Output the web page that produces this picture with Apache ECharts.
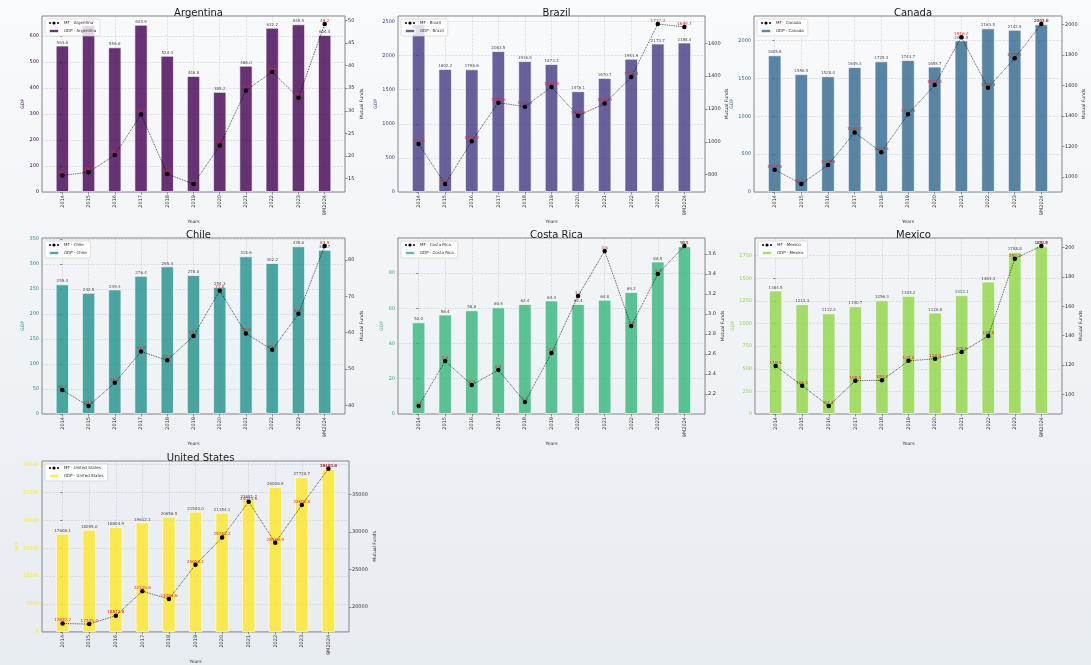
<!DOCTYPE html>
<html>
<head>
<meta charset="utf-8">
<title>GDP and Mutual Funds by Country</title>
<script src="https://cdn.jsdelivr.net/npm/echarts@6/dist/echarts.min.js"></script>
<style>
  html, body { margin: 0; padding: 0; }
  #chart { width: 1091px; height: 665px; }
</style>
</head>
<body>
<div id="chart"></div>
<script>
// Years shown on every panel
const categories = ['2014', '2015', '2016', '2017', '2018', '2019', '2020', '2021', '2022', '2023', '9M2024'];

// GDP (bars, left axis) and Mutual Funds (dotted line, right axis) per country
const gdpArgentina = [563.6, 642.5, 556.8, 643.9, 524.4, 446.8, 385.2, 486.0, 632.2, 645.5, 604.4];
const mfArgentina  = [15.7, 16.4, 20.2, 29.2, 16.0, 13.8, 22.3, 34.5, 38.6, 32.9, 49.2];
const gdpTicksArgentina = [0, 100, 200, 300, 400, 500, 600];
const mfTicksArgentina  = [15, 20, 25, 30, 35, 40, 45, 50];

const gdpBrazil = [2456.0, 1802.2, 1796.6, 2063.5, 1916.9, 1873.3, 1476.1, 1670.7, 1951.9, 2173.7, 2188.4];
const mfBrazil  = [987.6, 743.4, 1004.2, 1238.5, 1214.3, 1333.8, 1159.1, 1232.9, 1394.1, 1717.3, 1699.7];
const gdpTicksBrazil = [0, 500, 1000, 1500, 2000, 2500];
const mfTicksBrazil  = [800, 1000, 1200, 1400, 1600];

const gdpCanada = [1805.8, 1556.5, 1528.0, 1649.3, 1725.3, 1743.7, 1655.7, 2001.5, 2161.5, 2142.5, 2215.0];
const mfCanada  = [1047.8, 954.2, 1078.6, 1292.3, 1162.5, 1411.6, 1602.4, 1916.2, 1585.3, 1778.1, 2002.9];
const gdpTicksCanada = [0, 500, 1000, 1500, 2000];
const mfTicksCanada  = [1000, 1200, 1400, 1600, 1800, 2000];

const gdpChile = [259.4, 242.5, 249.3, 276.4, 295.4, 278.0, 254.3, 315.6, 302.2, 335.6, 328.7];
const mfChile  = [44.2, 39.8, 46.2, 54.8, 52.4, 59.1, 71.6, 59.8, 55.3, 65.2, 83.9];
const gdpTicksChile = [0, 50, 100, 150, 200, 250, 300, 350];
const mfTicksChile  = [40, 50, 60, 70, 80];

const gdpCostaRica = [52.0, 56.4, 58.8, 60.5, 62.4, 64.4, 62.4, 64.8, 69.2, 86.5, 95.1];
const mfCostaRica  = [2.08, 2.53, 2.29, 2.44, 2.12, 2.61, 3.18, 3.63, 2.88, 3.40, 3.68];
const gdpTicksCostaRica = [0, 20, 40, 60, 80];
const mfTicksCostaRica  = [2.2, 2.4, 2.6, 2.8, 3.0, 3.2, 3.4, 3.6];

const gdpMexico = [1364.5, 1213.3, 1112.2, 1190.7, 1256.3, 1305.2, 1120.8, 1313.1, 1463.3, 1788.8, 1853.0];
const mfMexico  = [119.5, 106.1, 92.3, 109.5, 109.7, 123.0, 124.3, 128.9, 139.8, 192.3, 200.9];
const gdpTicksMexico = [0, 250, 500, 750, 1000, 1250, 1500, 1750];
const mfTicksMexico  = [100, 120, 140, 160, 180, 200];

const gdpUnitedStates = [17608.1, 18295.0, 18804.9, 19612.1, 20656.5, 21540.0, 21354.1, 23681.2, 26006.9, 27720.7, 29180.0];
const mfUnitedStates  = [17832.2, 17745.4, 18872.8, 22125.6, 21084.6, 25650.1, 29263.2, 34033.6, 28569.9, 33600.0, 38413.8];
const gdpTicksUnitedStates = [0, 5000, 10000, 15000, 20000, 25000, 30000];
const mfTicksUnitedStates  = [20000, 25000, 30000, 35000];

const panels = [
  { name: 'Argentina',     gdp: gdpArgentina,    mf: mfArgentina,    gdpTicks: gdpTicksArgentina,    mfTicks: mfTicksArgentina,    color: '#440154' },
  { name: 'Brazil',        gdp: gdpBrazil,       mf: mfBrazil,       gdpTicks: gdpTicksBrazil,       mfTicks: mfTicksBrazil,       color: '#443983' },
  { name: 'Canada',        gdp: gdpCanada,       mf: mfCanada,       gdpTicks: gdpTicksCanada,       mfTicks: mfTicksCanada,       color: '#31688e' },
  { name: 'Chile',         gdp: gdpChile,        mf: mfChile,        gdpTicks: gdpTicksChile,        mfTicks: mfTicksChile,        color: '#21918c' },
  { name: 'Costa Rica',    gdp: gdpCostaRica,    mf: mfCostaRica,    gdpTicks: gdpTicksCostaRica,    mfTicks: mfTicksCostaRica,    color: '#35b779' },
  { name: 'Mexico',        gdp: gdpMexico,       mf: mfMexico,       gdpTicks: gdpTicksMexico,       mfTicks: mfTicksMexico,       color: '#90d743' },
  { name: 'United States', gdp: gdpUnitedStates, mf: mfUnitedStates, gdpTicks: gdpTicksUnitedStates, mfTicks: mfTicksUnitedStates, color: '#fde725' }
];

// Plot rectangles of the 3x3 grid (last row holds a single panel)
const layout = [
  { left: 42,  top: 16,  width: 303, height: 176, gapL: 14, gapR: 14 },
  { left: 398, top: 16,  width: 307, height: 176, gapL: 14, gapR: 13 },
  { left: 754, top: 16,  width: 308, height: 176, gapL: 14, gapR: 13 },
  { left: 42,  top: 238, width: 303, height: 176, gapL: 14, gapR: 14 },
  { left: 398, top: 238, width: 307, height: 176, gapL: 7,  gapR: 9 },
  { left: 755, top: 238, width: 307, height: 176, gapL: 12, gapR: 10 },
  { left: 42,  top: 461, width: 307, height: 175, gapL: 17, gapR: 16 }
];

const FONT = 'DejaVu Sans';
const positions = categories.map((c, i) => i);

const option = {
  animation: false,
  backgroundColor: {
    type: 'linear', x: 0, y: 0, x2: 0, y2: 1,
    colorStops: [{ offset: 0, color: '#f9fafc' }, { offset: 1, color: '#e7ecf1' }]
  },
  textStyle: { fontFamily: FONT },
  title: [], grid: [], xAxis: [], yAxis: [], legend: [], series: []
};

panels.forEach((p, i) => {
  const g = layout[i];
  const gdpMax = Math.max(...p.gdp) * 1.05;
  const mfLo = Math.min(...p.mf), mfHi = Math.max(...p.mf);
  const mfPad = (mfHi - mfLo) * 0.05;
  const gdpStep = p.gdpTicks[1] - p.gdpTicks[0];

  option.title.push({
    text: p.name,
    left: g.left + g.width / 2,
    top: g.top - 13,
    textAlign: 'center',
    textStyle: { fontFamily: FONT, fontSize: 10, fontWeight: 'normal', color: '#1a1a1a' }
  });

  option.grid.push({
    left: g.left, top: g.top, width: g.width, height: g.height,
    show: true, borderColor: '#858585', borderWidth: 1, backgroundColor: 'transparent'
  });

  option.xAxis.push({
    type: 'value', gridIndex: i, min: -0.775, max: 10.775,
    name: 'Years', nameLocation: 'middle', nameGap: 23,
    nameTextStyle: { fontFamily: FONT, fontSize: 4.6, color: '#333' },
    axisLine: { show: false },
    axisTick: { show: true, customValues: positions, length: 2.5, lineStyle: { color: '#555', width: 0.6 } },
    axisLabel: {
      customValues: positions, rotate: 90, fontSize: 5, color: '#333', margin: 3, fontFamily: FONT,
      formatter: v => categories[Math.round(v)]
    },
    splitLine: { show: true, lineStyle: { type: 'dashed', color: 'rgba(170,170,170,0.5)', width: 0.6 } }
  });

  option.yAxis.push({
    type: 'value', gridIndex: i, position: 'left', min: 0, max: gdpMax, interval: gdpStep,
    name: 'GDP', nameLocation: 'middle', nameGap: g.gapL, nameRotate: 90,
    nameTextStyle: { fontFamily: FONT, fontSize: 4.6, color: p.color },
    axisLine: { show: false },
    axisTick: { show: true, customValues: p.gdpTicks, length: 2.5, lineStyle: { color: '#555', width: 0.6 } },
    axisLabel: {
      customValues: p.gdpTicks, fontSize: 5, color: p.color, margin: 3, fontFamily: FONT,
      formatter: v => String(Math.round(v))
    },
    splitLine: { show: true, lineStyle: { type: 'dashed', color: 'rgba(170,170,170,0.5)', width: 0.6 } }
  });

  option.yAxis.push({
    type: 'value', gridIndex: i, position: 'right', min: mfLo - mfPad, max: mfHi + mfPad,
    name: 'Mutual Funds', nameLocation: 'middle', nameGap: g.gapR, nameRotate: 90,
    nameTextStyle: { fontFamily: FONT, fontSize: 4.6, color: '#333' },
    axisLine: { show: false },
    axisTick: { show: true, customValues: p.mfTicks, length: 2.5, lineStyle: { color: '#555', width: 0.6 } },
    axisLabel: {
      customValues: p.mfTicks, fontSize: 5, color: '#333', margin: 3, fontFamily: FONT,
      formatter: v => (p.mfTicks[1] - p.mfTicks[0] < 1 ? v.toFixed(1) : String(Math.round(v)))
    },
    splitLine: { show: false }
  });

  option.legend.push({
    orient: 'vertical', left: g.left + 3, top: g.top + 3,
    data: ['MF - ' + p.name, 'GDP - ' + p.name],
    itemWidth: 10, itemHeight: 4, itemGap: 3,
    padding: [2, 4, 2, 3],
    backgroundColor: 'rgba(255,255,255,0.8)', borderColor: '#cfcfcf', borderWidth: 0.6, borderRadius: 1.5,
    textStyle: { fontFamily: FONT, fontSize: 4, color: '#333' }
  });

  option.series.push({
    type: 'bar', name: 'GDP - ' + p.name, xAxisIndex: i, yAxisIndex: 2 * i,
    data: p.gdp.map((v, k) => [k, v]),
    barWidth: '50%',
    itemStyle: { color: p.color, opacity: 0.8, borderColor: '#ffffff', borderWidth: 0.8 },
    label: {
      show: true, position: 'top', distance: 1, fontSize: 4, color: '#222', fontFamily: FONT,
      formatter: q => q.value[1].toFixed(1)
    },
    z: 2
  });

  option.series.push({
    type: 'line', name: 'MF - ' + p.name, xAxisIndex: i, yAxisIndex: 2 * i + 1,
    data: p.mf.map((v, k) => [k, v]),
    symbol: 'circle', symbolSize: 4.5,
    itemStyle: { color: '#000' },
    lineStyle: { color: 'rgba(0,0,0,0.75)', width: 0.9, type: 'dotted' },
    label: {
      show: true, position: 'top', distance: -1, fontSize: 4.2, color: '#e0282c', fontFamily: FONT,
      formatter: q => q.value[1].toFixed(1)
    },
    z: 4
  });
});

const chart = echarts.init(document.getElementById('chart'), null, { renderer: 'canvas' });
chart.setOption(option);
</script>
</body>
</html>
